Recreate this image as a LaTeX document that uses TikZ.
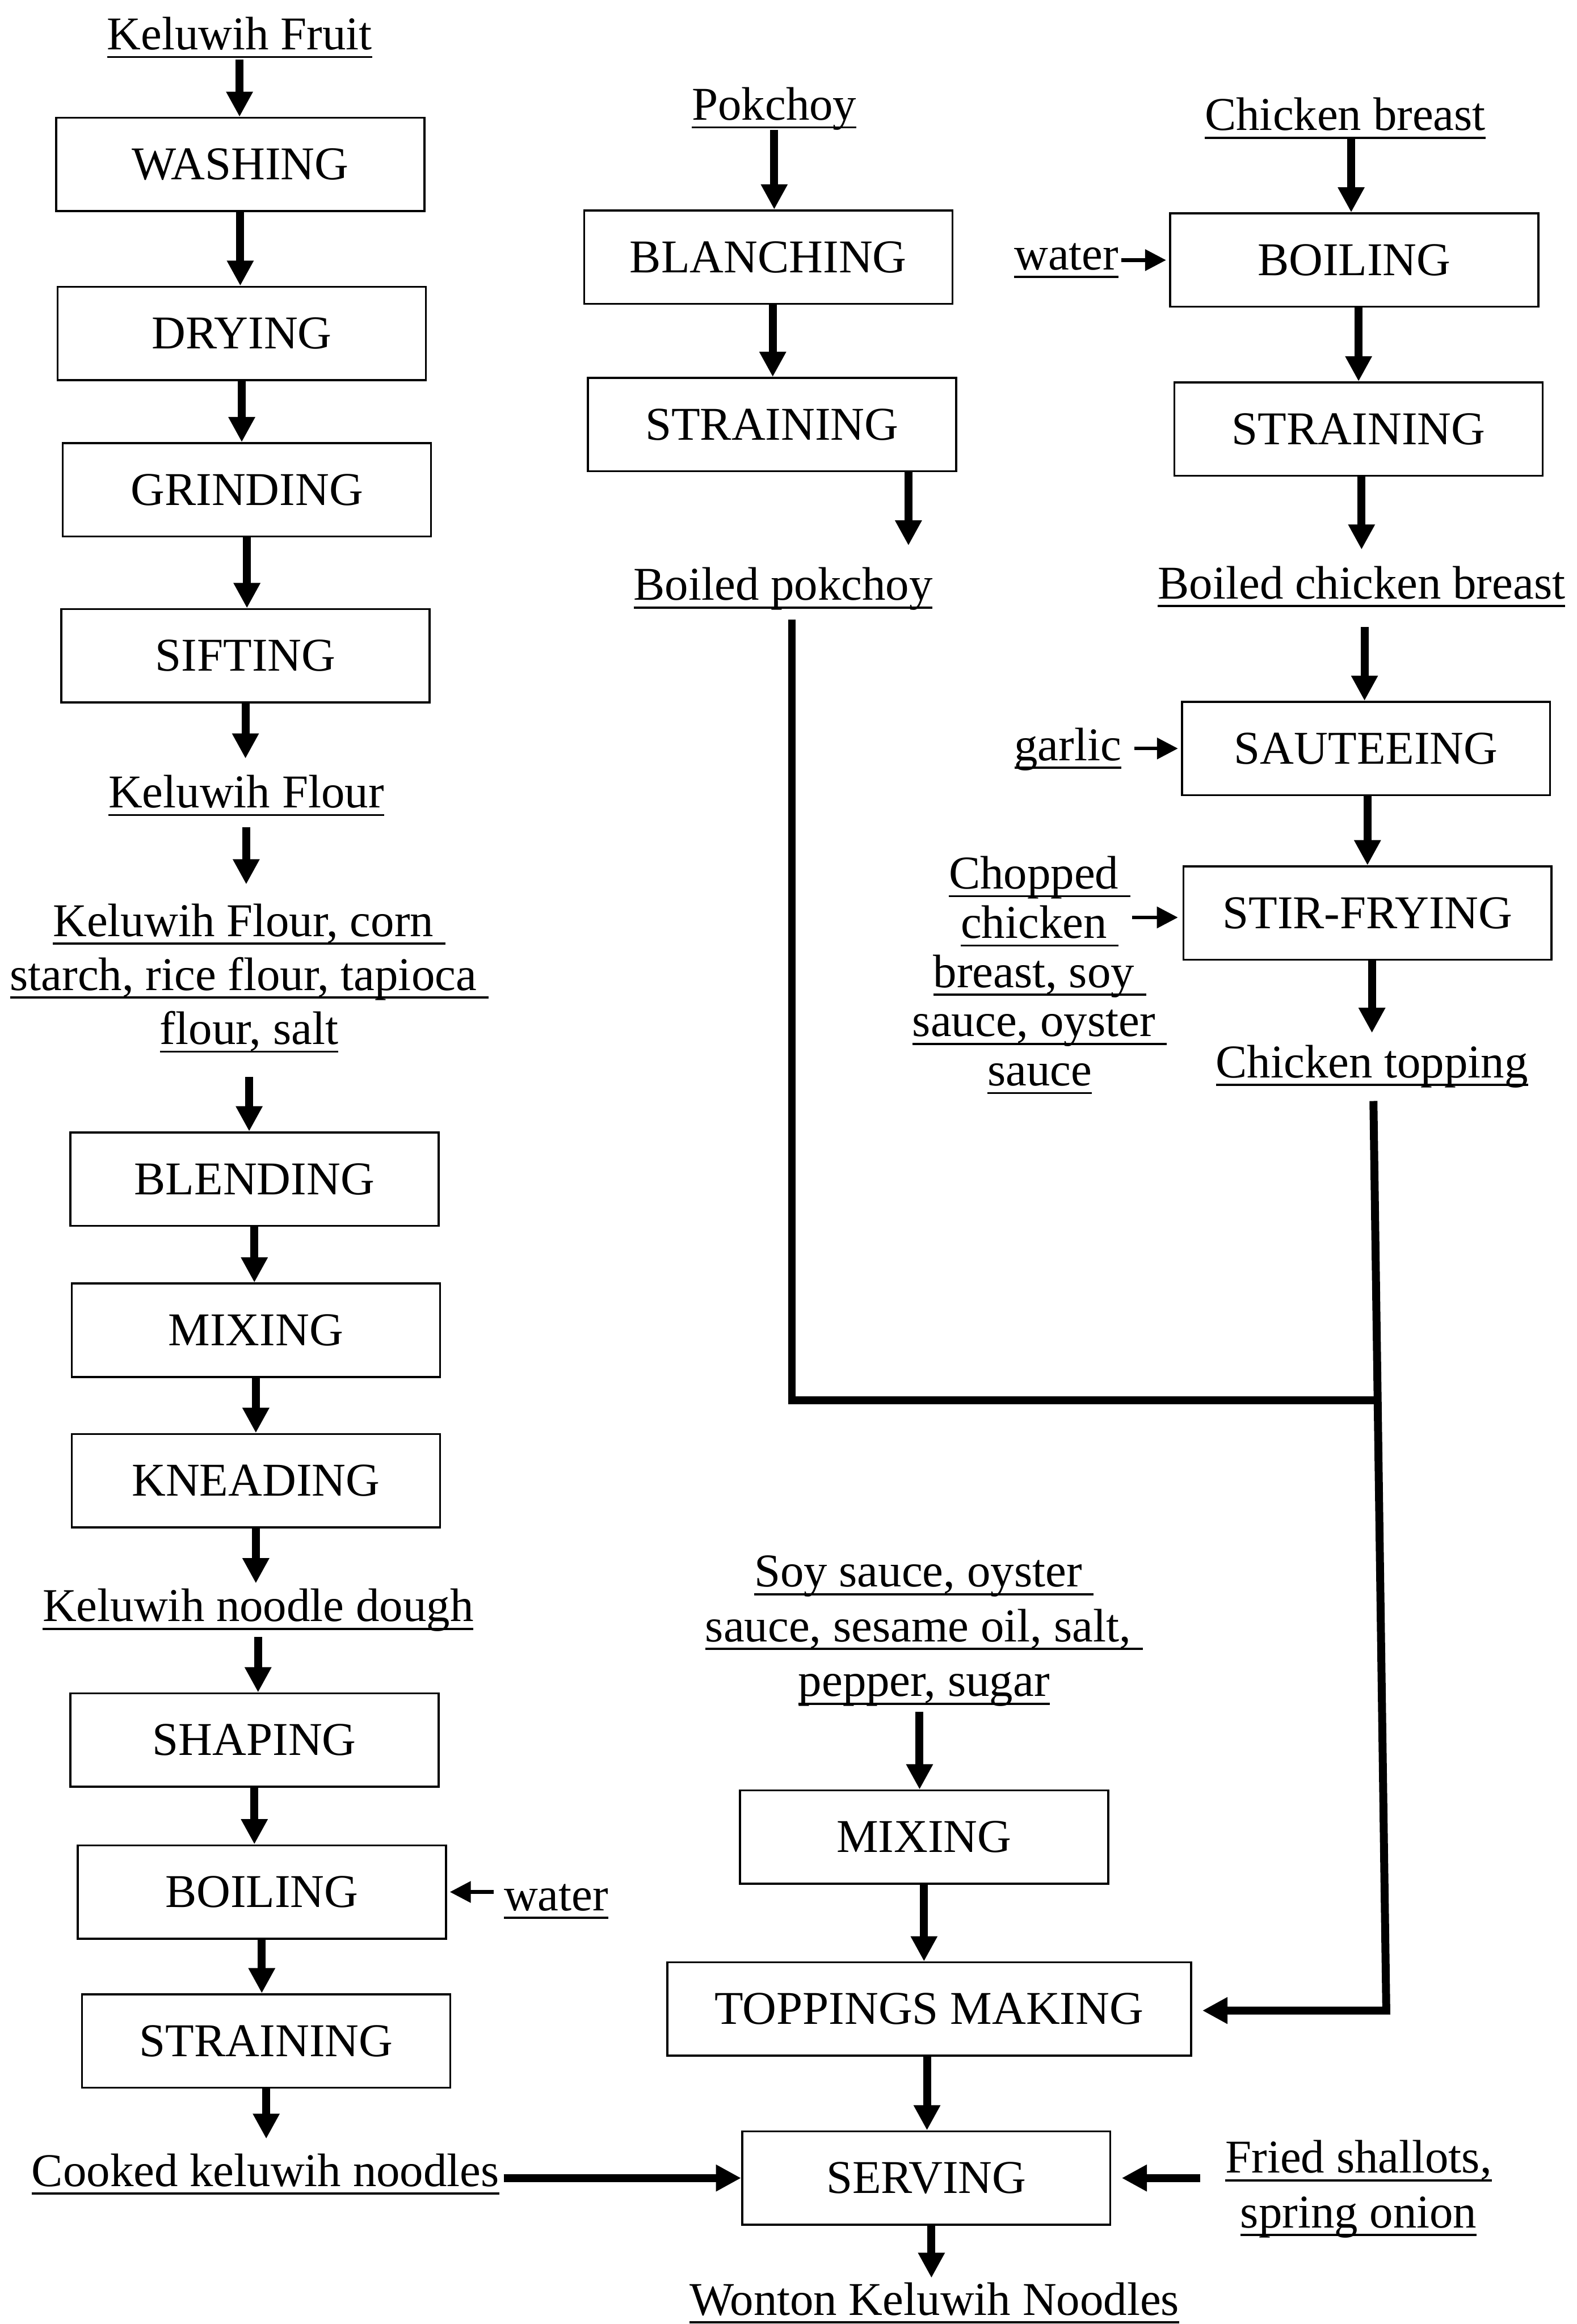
\documentclass[tikz,border=0pt]{standalone}
\usepackage{fontspec}
\setmainfont{Liberation Serif}
\usetikzlibrary{arrows.meta,calc}
\newsavebox\ulbox
\newcommand\ulx[1]{\sbox\ulbox{#1}\rlap{\rule[-0.178em]{\wd\ulbox}{0.045em}}\usebox\ulbox}
\begin{document}
\begin{tikzpicture}[x=0.028269cm, y=-0.028259cm,
  fnt/.style={font=\fontsize{25.5}{29.3}\selectfont},
  box/.style={fnt, draw=black, line width=1.1pt, minimum width=7.02cm, minimum height=1.78cm, inner sep=0pt},
  lab/.style={fnt, inner sep=0pt, outer sep=0pt, anchor=base},
  blk/.style={fnt, inner sep=0pt, outer sep=0pt, align=center},
  arr/.style={line width=4.3pt, -{Triangle[width=0.48cm,length=0.48cm]}},
  tarr/.style={line width=1.9pt, -{Triangle[width=0.4cm,length=0.4cm]}},
  conn/.style={line width=4.1pt, line join=miter}]
\useasboundingbox (0,0) rectangle (1063,1568);

% ---------- left column ----------
\node[lab] (fruit) at (161.5,33.5) {\ulx{Keluwih Fruit}};
\node[box] (wash) at (162,111) {WASHING};
\node[box] (dry) at (163,225) {DRYING};
\node[box] (grind) at (166.5,330.5) {GRINDING};
\node[box] (sift) at (165.5,442.5) {SIFTING};
\node[lab] (kflour) at (166,545) {\ulx{Keluwih Flour}};
\node[blk] (kblock) at (168,660) {\ulx{Keluwih Flour, corn\ }\\\ulx{starch, rice flour, tapioca\ }\\\ulx{flour, salt}};
\node[box] (blend) at (171.5,795.5) {BLENDING};
\node[box] (mix) at (172.5,897.5) {MIXING};
\node[box] (knead) at (172.5,999) {KNEADING};
\node[lab] (dough) at (174,1094) {\ulx{Keluwih noodle dough}};
\node[box] (shape) at (171.5,1174) {SHAPING};
\node[box] (boil) at (176.5,1276.5) {BOILING};
\node[lab] (waterl) at (375,1289) {\ulx{water}};
\node[box] (strain) at (179.5,1377) {STRAINING};
\node[lab] (cooked) at (179,1475) {\ulx{Cooked keluwih noodles}};

% ---------- middle column ----------
\node[lab] (pok) at (522,81) {\ulx{Pokchoy}};
\node[box] (blanch) at (518,173.5) {BLANCHING};
\node[box] (strainb) at (520.5,286.5) {STRAINING};
\node[lab] (bpok) at (528,405) {\ulx{Boiled pokchoy}};

% ---------- right column ----------
\node[lab] (chick) at (907,88) {\ulx{Chicken breast}};
\node[lab] (waterc) at (719,182) {\ulx{water}};
\node[box] (boilc) at (913,175.5) {BOILING};
\node[box] (strainc) at (916,289.5) {STRAINING};
\node[lab] (bchick) at (918,404) {\ulx{Boiled chicken breast}};
\node[lab] (garlic) at (720,513) {\ulx{garlic}};
\node[box] (saut) at (921,505) {SAUTEEING};
\node[box] (stir) at (922,616) {STIR-FRYING};
\node[blk, font=\fontsize{25.5}{26.7}\selectfont] (chop) at (701,658) {\ulx{Chopped\ }\\\ulx{chicken\ }\\\ulx{breast, soy\ }\\\ulx{sauce, oyster\ }\\\ulx{sauce}};
\node[lab] (ctop) at (925,727) {\ulx{Chicken topping}};

% ---------- bottom ----------
\node[blk, font=\fontsize{25.5}{29.7}\selectfont] (soy) at (623,1100.5) {\ulx{Soy sauce, oyster\ }\\\ulx{sauce, sesame oil, salt,\ }\\\ulx{pepper, sugar}};
\node[box] (mixs) at (623,1239.5) {MIXING};
\node[box, minimum width=9.98cm] (topm) at (626.5,1355.5) {TOPPINGS MAKING};
\node[box] (serv) at (624.5,1469.5) {SERVING};
\node[blk, font=\fontsize{25.5}{29.7}\selectfont] (fried) at (916,1477) {\ulx{Fried shallots,}\\\ulx{spring onion}};
\node[lab] (wonton) at (630,1562) {\ulx{Wonton Keluwih Noodles}};

% ---------- arrows: left column ----------
\draw[arr, shorten <=1pt] (fruit.south) -- (fruit.south |- wash.north);
\draw[arr] (wash.south) -- (wash.south |- dry.north);
\draw[arr] (dry.south) -- (dry.south |- grind.north);
\draw[arr] (grind.south) -- (grind.south |- sift.north);
\draw[arr, shorten >=9pt] (sift.south) -- (sift.south |- kflour.north);
\draw[arr, shorten <=6pt, shorten >=10.5pt] (kflour.south) -- (kflour.south |- kblock.north);
\draw[arr, shorten <=13pt] (kblock.south) -- (kblock.south |- blend.north);
\draw[arr] (blend.south) -- (blend.south |- mix.north);
\draw[arr] (mix.south) -- (mix.south |- knead.north);
\draw[arr, shorten >=3pt] (knead.south) -- (knead.south |- dough.north);
\draw[arr, shorten <=3pt] (dough.south) -- (dough.south |- shape.north);
\draw[arr] (shape.south) -- (shape.south |- boil.north);
\draw[tarr, shorten <=5.6pt, shorten >=1.6pt] (waterl.west |- boil.east) -- (boil.east);
\draw[arr] (boil.south) -- (boil.south |- strain.north);
\draw[arr, shorten >=8pt] (strain.south) -- (strain.south |- cooked.north);
\draw[arr, shorten <=2.4pt] (cooked.east |- serv.west) -- (serv.west);

% ---------- arrows: middle column ----------
\draw[arr] (pok.south) -- (pok.south |- blanch.north);
\coordinate (bl) at ($(blanch.south)+(3,0)$);
\draw[arr] (bl) -- (bl |- strainb.north);
\coordinate (sb) at ($(strainb.south)+(92,0)$);
\draw[arr, shorten >=12pt] (sb) -- (sb |- bpok.north);

% ---------- arrows: right column ----------
\coordinate (chs) at ($(chick.south)+(4,0)$);
\draw[arr] (chs) -- (chs |- boilc.north);
\draw[tarr, shorten <=1.6pt, shorten >=1.6pt] (waterc.east |- boilc.west) -- (boilc.west);
\coordinate (bcs) at ($(boilc.south)+(3,0)$);
\draw[arr] (bcs) -- (bcs |- strainc.north);
\coordinate (scs) at ($(strainc.south)+(2,0)$);
\draw[arr, shorten >=9pt] (scs) -- (scs |- bchick.north);
\coordinate (bchs) at ($(bchick.south)+(2,0)$);
\draw[arr, shorten <=10.8pt] (bchs) -- (bchs |- saut.north);
\draw[tarr, shorten <=7pt, shorten >=1.6pt] (garlic.east |- saut.west) -- (saut.west);
\coordinate (sas) at ($(saut.south)+(1,0)$);
\draw[arr] (sas) -- (sas |- stir.north);
\coordinate (chopend) at ($(stir.west)+(-3,3)$);
\draw[tarr] ($(chopend)+(-31,0)$) -- (chopend);
\coordinate (sts) at ($(stir.south)+(3,0)$);
\draw[arr, shorten >=6.5pt] (sts) -- (sts |- ctop.north);

% ---------- joining lines ----------
\coordinate (cs) at ($(ctop.south)+(1,9)$);
\coordinate (bend) at ($(topm.east)+(131,1)$);
\coordinate (junc) at ($(cs)!0.329!(bend)$);
\coordinate (pj) at ($(bpok.south)+(6,6)$);
\draw[conn] (pj) |- (junc);
\draw[arr, line join=miter] (cs) -- (bend) -- ($(topm.east)+(7,1)$);

% ---------- arrows: bottom ----------
\coordinate (sys) at ($(soy.south)+(-3,0)$);
\draw[arr, shorten <=3pt] (sys) -- (sys |- mixs.north);
\draw[arr] (mixs.south) -- (mixs.south |- topm.north);
\coordinate (tms) at ($(topm.south)+(-1.5,0)$);
\draw[arr] (tms) -- (tms |- serv.north);
\draw[arr, shorten <=13.7pt, shorten >=5.6pt] (fried.west |- serv.east) -- (serv.east);
\coordinate (svs) at ($(serv.south)+(3.5,0)$);
\draw[arr, shorten >=2.5pt] (svs) -- (svs |- wonton.north);
\end{tikzpicture}
\end{document}
